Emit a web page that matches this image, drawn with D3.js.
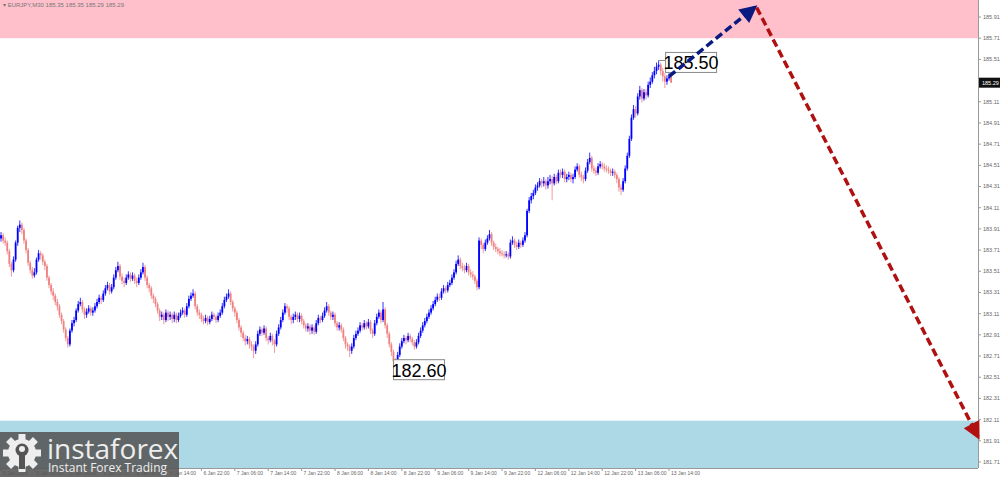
<!DOCTYPE html>
<meta charset="utf-8">
<script src="https://d3js.org/d3.v7.min.js"></script>
<style>
  body { margin: 0; background: #fff; }
  svg { display: block; font-family: "Liberation Sans", Arial, sans-serif; }
</style>
<div id="chart"></div>
<script>

// ---- data -------------------------------------------------------------
var symbolTitle = "EURJPY,M30  185.35 185.35 185.29 185.29";

// M30 bars, open of each bar = close of the bar before
var firstOpen = 183.82;
var closes = [
  183.85,183.80,183.78,183.70,183.58,183.52,183.62,183.78,183.92,183.95,
  183.90,183.80,183.71,183.59,183.52,183.47,183.50,183.62,183.68,183.66,
  183.60,183.56,183.45,183.38,183.32,183.28,183.22,183.18,183.10,183.04,
  182.96,182.88,182.82,182.95,183.02,183.05,183.14,183.20,183.22,183.15,
  183.10,183.13,183.16,183.12,183.14,183.18,183.22,183.26,183.24,183.30,
  183.35,183.38,183.32,183.36,183.45,183.52,183.56,183.46,183.42,183.40,
  183.45,183.48,183.44,183.47,183.42,183.40,183.45,183.50,183.55,183.45,
  183.38,183.35,183.28,183.25,183.20,183.14,183.08,183.10,183.05,183.12,
  183.08,183.10,183.06,183.10,183.05,183.09,183.12,183.14,183.10,183.18,
  183.25,183.28,183.30,183.18,183.12,183.10,183.06,183.04,183.07,183.03,
  183.06,183.10,183.08,183.05,183.09,183.12,183.18,183.24,183.27,183.30,
  183.22,183.16,183.12,183.05,182.98,182.93,182.88,182.85,182.87,182.82,
  182.80,182.76,182.82,182.92,182.96,182.93,182.97,182.88,182.86,182.90,
  182.85,182.82,182.92,182.98,183.05,183.12,183.18,183.16,183.08,183.05,
  183.08,183.10,183.06,183.09,183.04,183.00,182.97,182.99,182.95,182.98,
  182.94,183.02,183.07,183.05,183.09,183.14,183.18,183.12,183.08,183.10,
  183.02,182.98,183.00,182.96,182.88,182.82,182.80,182.76,182.80,182.88,
  182.92,182.95,183.00,182.98,183.02,182.99,183.03,182.95,182.92,183.02,
  183.08,183.12,183.05,183.15,183.00,182.92,182.82,182.75,182.66,182.63,
  182.72,182.80,182.85,182.88,182.86,182.90,182.87,182.84,182.80,182.84,
  182.90,182.95,183.00,183.04,183.08,183.12,183.16,183.20,183.24,183.27,
  183.26,183.32,183.35,183.33,183.38,183.40,183.45,183.50,183.58,183.62,
  183.56,183.54,183.52,183.56,183.50,183.48,183.46,183.42,183.36,183.80,
  183.76,183.72,183.78,183.82,183.86,183.78,183.74,183.72,183.70,183.68,
  183.67,183.66,183.67,183.65,183.78,183.80,183.76,183.74,183.78,183.76,
  183.80,183.85,184.08,184.18,184.22,184.25,184.30,184.32,184.36,184.34,
  184.36,184.32,184.36,184.38,184.34,184.40,184.36,184.44,184.42,184.45,
  184.38,184.40,184.42,184.38,184.40,184.47,184.50,184.42,184.40,184.38,
  184.46,184.54,184.58,184.48,184.46,184.44,184.50,184.52,184.50,184.48,
  184.47,184.46,184.44,184.45,184.42,184.38,184.30,184.28,184.36,184.48,
  184.60,184.76,184.96,185.04,185.00,185.16,185.22,185.14,185.20,185.17,
  185.27,185.30,185.36,185.40,185.44,185.46,185.40,185.35,185.30,185.33,
  185.35,185.29
];
var highs = [
  183.88,183.87,183.83,183.80,183.72,183.60,183.65,183.80,183.94,183.99,
  183.97,183.92,183.82,183.73,183.61,183.55,183.54,183.64,183.71,183.70,
  183.68,183.62,183.58,183.47,183.40,183.35,183.30,183.25,183.20,183.12,
  183.06,182.98,182.90,182.97,183.05,183.08,183.16,183.23,183.26,183.24,
  183.17,183.16,183.19,183.18,183.17,183.21,183.25,183.29,183.28,183.33,
  183.38,183.41,183.40,183.39,183.48,183.55,183.60,183.58,183.49,183.45,
  183.48,183.51,183.50,183.50,183.49,183.45,183.48,183.53,183.59,183.57,
  183.47,183.40,183.37,183.30,183.27,183.22,183.16,183.13,183.12,183.15,
  183.14,183.13,183.12,183.13,183.12,183.12,183.15,183.17,183.16,183.21,
  183.28,183.31,183.34,183.32,183.20,183.15,183.12,183.09,183.10,183.09,
  183.09,183.13,183.12,183.10,183.12,183.15,183.21,183.27,183.30,183.34,
  183.32,183.24,183.18,183.14,183.07,183.00,182.95,182.91,182.90,182.89,
  182.85,182.82,182.85,182.95,182.99,182.98,183.00,182.99,182.90,182.93,
  182.92,182.87,182.95,183.01,183.08,183.15,183.21,183.20,183.18,183.10,
  183.11,183.13,183.12,183.12,183.11,183.06,183.02,183.02,183.01,183.01,
  183.00,183.05,183.10,183.09,183.12,183.17,183.22,183.20,183.14,183.13,
  183.12,183.04,183.03,183.02,182.98,182.90,182.84,182.82,182.83,182.91,
  182.95,182.98,183.03,183.02,183.05,183.04,183.06,183.05,182.97,183.05,
  183.11,183.15,183.14,183.22,183.17,183.02,182.94,182.84,182.77,182.69,
  182.75,182.83,182.88,182.91,182.90,182.93,182.92,182.89,182.86,182.87,
  182.93,182.98,183.03,183.07,183.11,183.15,183.19,183.23,183.27,183.30,
  183.30,183.35,183.38,183.37,183.41,183.43,183.48,183.53,183.61,183.66,
  183.64,183.59,183.57,183.59,183.58,183.53,183.51,183.48,183.44,183.83,
  183.82,183.78,183.81,183.85,183.90,183.88,183.80,183.77,183.74,183.73,
  183.71,183.70,183.70,183.69,183.81,183.84,183.82,183.79,183.81,183.80,
  183.83,183.88,184.10,184.21,184.25,184.28,184.33,184.35,184.39,184.38,
  184.40,184.38,184.40,184.42,184.41,184.43,184.42,184.47,184.47,184.48,
  184.47,184.43,184.45,184.44,184.43,184.50,184.53,184.52,184.45,184.42,
  184.49,184.57,184.63,184.60,184.51,184.49,184.53,184.55,184.54,184.53,
  184.51,184.50,184.48,184.48,184.47,184.44,184.40,184.33,184.39,184.51,
  184.63,184.79,184.99,185.08,185.07,185.19,185.26,185.24,185.23,185.23,
  185.30,185.34,185.39,185.44,185.48,185.50,185.48,185.43,185.38,185.36,
  185.38,185.35
];
var lows = [
  183.79,183.77,183.75,183.67,183.55,183.46,183.50,183.60,183.75,183.88,
  183.86,183.77,183.68,183.56,183.49,183.44,183.45,183.48,183.60,183.62,
  183.57,183.52,183.42,183.35,183.29,183.24,183.19,183.14,183.07,183.01,
  182.93,182.85,182.79,182.80,182.93,182.99,183.03,183.12,183.18,183.12,
  183.06,183.07,183.11,183.09,183.09,183.12,183.16,183.20,183.20,183.22,
  183.28,183.33,183.29,183.30,183.34,183.43,183.50,183.43,183.39,183.36,
  183.38,183.43,183.41,183.42,183.39,183.36,183.38,183.43,183.48,183.42,
  183.35,183.31,183.25,183.21,183.17,183.11,183.04,183.05,183.01,183.03,
  183.04,183.05,183.02,183.03,183.02,183.03,183.07,183.10,183.07,183.08,
  183.16,183.23,183.26,183.15,183.09,183.06,183.03,183.01,183.02,183.00,
  183.01,183.04,183.05,183.02,183.03,183.07,183.10,183.16,183.22,183.25,
  183.19,183.13,183.08,183.02,182.95,182.89,182.85,182.81,182.82,182.78,
  182.76,182.69,182.73,182.80,182.90,182.90,182.91,182.85,182.82,182.84,
  182.81,182.74,182.80,182.90,182.96,183.03,183.10,183.12,183.05,183.01,
  183.02,183.05,183.03,183.03,183.01,182.97,182.94,182.94,182.91,182.92,
  182.91,182.92,183.00,183.02,183.03,183.07,183.12,183.09,183.05,183.05,
  182.99,182.95,182.95,182.93,182.85,182.78,182.76,182.70,182.73,182.78,
  182.86,182.90,182.93,182.95,182.96,182.96,182.97,182.92,182.88,182.90,
  183.00,183.06,183.02,183.03,182.97,182.88,182.79,182.71,182.62,182.60,
  182.61,182.70,182.78,182.83,182.82,182.84,182.84,182.81,182.77,182.78,
  182.82,182.88,182.93,182.98,183.02,183.06,183.10,183.14,183.18,183.22,
  183.23,183.24,183.30,183.30,183.31,183.36,183.38,183.43,183.48,183.56,
  183.53,183.51,183.49,183.50,183.47,183.45,183.43,183.39,183.33,183.34,
  183.72,183.68,183.70,183.76,183.80,183.75,183.71,183.69,183.67,183.65,
  183.65,183.63,183.64,183.62,183.63,183.76,183.73,183.71,183.72,183.73,
  183.74,183.78,183.83,184.06,184.15,184.19,184.23,184.27,184.30,184.30,
  184.31,184.28,184.29,184.33,184.18,184.32,184.33,184.34,184.39,184.39,
  184.35,184.35,184.37,184.35,184.34,184.38,184.45,184.39,184.36,184.34,
  184.36,184.44,184.52,184.45,184.43,184.41,184.42,184.48,184.47,184.45,
  184.44,184.43,184.41,184.41,184.39,184.34,184.26,184.23,184.26,184.34,
  184.46,184.58,184.74,184.94,184.96,184.98,185.13,185.10,185.12,185.13,
  185.15,185.24,185.28,185.33,185.37,185.41,185.36,185.30,185.24,185.27,
  185.31,185.29
];

// time labels, one every 16 bars (8 hours)
var timeLabels = ["5 Jan 2026", "5 Jan 06:00", "5 Jan 14:00", "5 Jan 22:00",
  "6 Jan 06:00", "6 Jan 14:00", "6 Jan 22:00", "7 Jan 06:00", "7 Jan 14:00",
  "7 Jan 22:00", "8 Jan 06:00", "8 Jan 14:00", "8 Jan 22:00", "9 Jan 06:00",
  "9 Jan 14:00", "9 Jan 22:00", "12 Jan 06:00", "12 Jan 14:00", "12 Jan 22:00",
  "13 Jan 06:00", "13 Jan 14:00"];

// price scale labels
var priceTicks = [185.91, 185.71, 185.51, 185.31, 185.11, 184.91, 184.71, 184.51,
  184.31, 184.11, 183.91, 183.71, 183.51, 183.31, 183.11, 182.91, 182.71, 182.51,
  182.31, 182.11, 181.91, 181.71];

// zones and forecast
var sellZone = [185.71, 186.2];
var buyZone = [181.60, 182.10];
var forecastBars = [320, 361, 468];
var forecastPrices = [185.35, 186.00, 181.95];
var lastPrice = 185.29;
var markHigh = {bar: 315, price: 185.50, text: "185.50"};
var markLow = {bar: 189, price: 182.60, text: "182.60"};

// ---- layout -----------------------------------------------------------
var width = 1000, height = 477;
var plotRight = 978, plotBottom = 468;

var svg = d3.select("#chart")
  .append("svg")
    .attr("width", width)
    .attr("height", height);

var x = d3.scaleLinear().domain([0, 468]).range([1, plotRight]);
var y = d3.scaleLinear().domain([181.71, 185.91]).range([462, 17]);

// zones
svg.append("rect")
  .attr("x", 0).attr("y", 0)
  .attr("width", plotRight)
  .attr("height", y(sellZone[0]))
  .attr("fill", "#ffc0cb");
svg.append("rect")
  .attr("x", 0).attr("y", y(buyZone[1]))
  .attr("width", plotRight)
  .attr("height", plotBottom - y(buyZone[1]))
  .attr("fill", "#add8e6");

// title
svg.append("text")
  .attr("x", 3).attr("y", 7)
  .style("font-size", "6px")
  .attr("fill", "#777")
  .text("\u25BE " + symbolTitle);

// candles
var bars = closes.map(function(c, i) {
  return {i: i, o: i === 0 ? firstOpen : closes[i - 1], h: highs[i], l: lows[i], c: c};
});

var candle = svg.append("g").selectAll("g")
  .data(bars)
  .enter()
  .append("g");

candle.append("line")
  .attr("x1", function(d) { return x(d.i); })
  .attr("x2", function(d) { return x(d.i); })
  .attr("y1", function(d) { return y(d.h); })
  .attr("y2", function(d) { return y(d.l); })
  .attr("stroke", function(d) { return d.c >= d.o ? "#0000ff" : "#f08080"; })
  .attr("stroke-width", 0.8);

candle.append("rect")
  .attr("x", function(d) { return x(d.i) - 0.9; })
  .attr("width", 1.8)
  .attr("y", function(d) { return y(Math.max(d.o, d.c)); })
  .attr("height", function(d) { return Math.max(0.8, Math.abs(y(d.o) - y(d.c))); })
  .attr("fill", function(d) { return d.c >= d.o ? "#0000ff" : "#f08080"; });

// price axis (right)
svg.append("line")
  .attr("x1", plotRight + 0.5).attr("x2", plotRight + 0.5)
  .attr("y1", 0).attr("y2", plotBottom)
  .attr("stroke", "#999");

var yAxis = svg.append("g")
  .selectAll("g")
  .data(priceTicks)
  .enter()
  .append("g")
    .attr("transform", function(d) { return "translate(" + plotRight + "," + y(d) + ")"; });
yAxis.append("line").attr("x1", 0).attr("x2", 3).attr("stroke", "#999");
yAxis.append("text")
  .attr("x", 5).attr("dy", "0.35em")
  .style("font-size", "5.5px")
  .attr("fill", "#666")
  .text(function(d) { return d.toFixed(2); });

// current price box
svg.append("rect")
  .attr("x", plotRight + 1).attr("y", y(lastPrice) - 5)
  .attr("width", 22).attr("height", 10)
  .attr("fill", "#111");
svg.append("text")
  .attr("x", plotRight + 4).attr("y", y(lastPrice))
  .attr("dy", "0.35em")
  .style("font-size", "5.5px")
  .attr("fill", "#fff")
  .text(lastPrice.toFixed(2));

// time axis (bottom)
svg.append("line")
  .attr("x1", 0).attr("x2", plotRight)
  .attr("y1", plotBottom + 0.5).attr("y2", plotBottom + 0.5)
  .attr("stroke", "#999");

var xAxis = svg.append("g")
  .selectAll("g")
  .data(timeLabels)
  .enter()
  .append("g")
    .attr("transform", function(d, i) { return "translate(" + x(i * 16) + "," + plotBottom + ")"; });
xAxis.append("line").attr("y1", 0).attr("y2", 3).attr("stroke", "#999");
xAxis.append("text")
  .attr("x", 2).attr("y", 6.5)
  .style("font-size", "5px")
  .attr("fill", "#666")
  .text(function(d) { return d; });

// high / low labels
function priceMark(m, dx, dy) {
  var px = x(m.bar), py = y(m.price);
  svg.append("line")
    .attr("x1", px).attr("x2", px + dx)
    .attr("y1", py).attr("y2", py)
    .attr("stroke", "#888");
  svg.append("rect")
    .attr("x", px + dx).attr("y", py + dy)
    .attr("width", 51).attr("height", 20)
    .attr("fill", "#fff")
    .attr("stroke", "#888");
  svg.append("text")
    .attr("x", px + dx + 25.5).attr("y", py + dy + 17)
    .attr("text-anchor", "middle")
    .style("font-size", "18px")
    .attr("fill", "#000")
    .text(m.text);
}
priceMark(markHigh, 7, -8);
priceMark(markLow, -2, -8);

// forecast arrows
var defs = svg.append("defs");
function arrowHead(id, color) {
  defs.append("marker")
    .attr("id", id)
    .attr("viewBox", "0 0 10 10")
    .attr("refX", 8).attr("refY", 5)
    .attr("markerWidth", 5.5).attr("markerHeight", 5)
    .attr("markerUnits", "strokeWidth")
    .attr("orient", "auto")
    .append("path")
      .attr("d", "M0,0 L10,5 L0,10 Z")
      .attr("fill", color);
}
arrowHead("headBlue", "#0a1a80");
arrowHead("headRed", "#b01010");

svg.append("line")
  .attr("x1", x(forecastBars[0])).attr("y1", y(forecastPrices[0]))
  .attr("x2", x(forecastBars[1])).attr("y2", y(forecastPrices[1]))
  .attr("stroke", "#0a1a80")
  .attr("stroke-width", 3.5)
  .attr("stroke-dasharray", "8,4")
  .attr("marker-end", "url(#headBlue)");

svg.append("line")
  .attr("x1", x(forecastBars[1]) + 2).attr("y1", y(forecastPrices[1]))
  .attr("x2", x(forecastBars[2])).attr("y2", y(forecastPrices[2]))
  .attr("stroke", "#b01010")
  .attr("stroke-width", 3.5)
  .attr("stroke-dasharray", "8,4")
  .attr("marker-end", "url(#headRed)");

// logo
var logo = svg.append("g");
logo.append("rect")
  .attr("x", 0).attr("y", 432)
  .attr("width", 179).attr("height", 45)
  .attr("fill", "#555")
  .attr("opacity", 0.88);

// gear
var gear = logo.append("g").attr("transform", "translate(22,453)");
var teeth = d3.range(8);
gear.selectAll("rect")
  .data(teeth)
  .enter()
  .append("rect")
    .attr("x", -3.5).attr("y", -19)
    .attr("width", 7).attr("height", 8)
    .attr("fill", "#eee")
    .attr("transform", function(d) { return "rotate(" + (d * 45) + ")"; });
gear.append("circle").attr("r", 14).attr("fill", "#eee");
gear.append("circle").attr("r", 6.5).attr("cy", -3).attr("fill", "#555");
gear.append("rect").attr("x", -3).attr("y", 2).attr("width", 6).attr("height", 14).attr("fill", "#555");
gear.append("circle").attr("r", 3).attr("cy", -4).attr("fill", "#eee");

logo.append("text")
  .attr("x", 47).attr("y", 459)
  .style("font-size", "28px")
  .style("font-family", "'Open Sans', 'DejaVu Sans', sans-serif")
  .attr("fill", "#eee")
  .text("instaforex");
logo.append("text")
  .attr("x", 48).attr("y", 472)
  .style("font-size", "12px")
  .style("font-family", "'Open Sans', 'DejaVu Sans', sans-serif")
  .attr("fill", "#eee")
  .text("Instant Forex Trading");

</script>
